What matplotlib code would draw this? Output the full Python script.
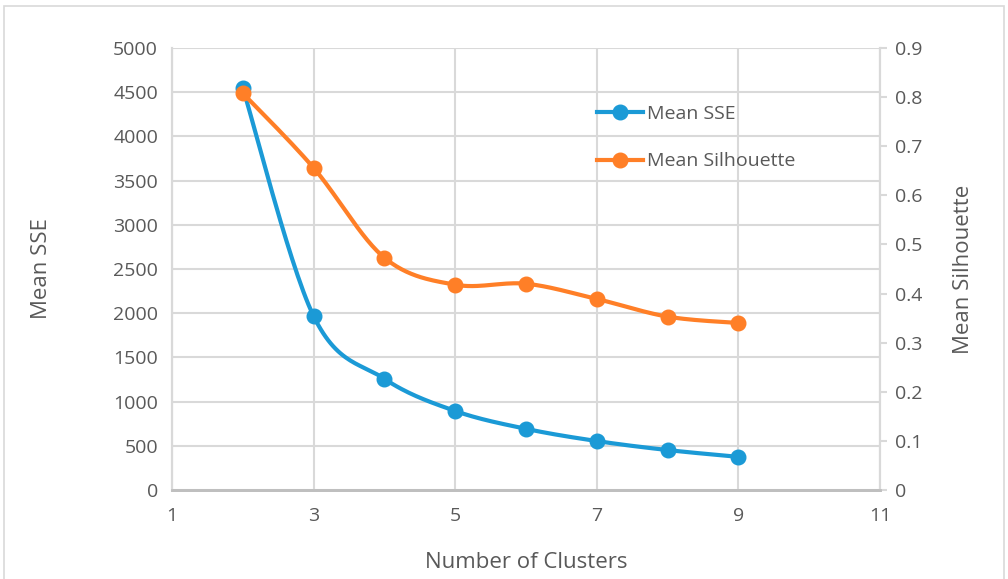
import numpy as np
import matplotlib
matplotlib.use('Agg')
import matplotlib.pyplot as plt
from matplotlib.patches import Rectangle

clusters = [2, 3, 4, 5, 6, 7, 8, 9]
mean_sse = [4550, 1968, 1258, 894, 692, 554, 452, 375]
mean_sil = [0.808, 0.656, 0.473, 0.418, 0.420, 0.389, 0.353, 0.340]

blue = '#1B9AD6'
orange = '#FF7F27'
grey = '#595959'

plt.rcParams['font.family'] = ['Open Sans', 'DejaVu Sans']


def smooth(xs, ys, n=30):
    # excel style smoothing: bezier segments with catmull-rom control points
    xs = np.asarray(xs, float)
    ys = np.asarray(ys, float)
    px = np.concatenate([[xs[0]], xs, [xs[-1]]])
    py = np.concatenate([[ys[0]], ys, [ys[-1]]])
    t = np.linspace(0, 1, n)
    outx, outy = [], []
    for i in range(1, len(px) - 2):
        x0, x1, x2, x3 = px[i - 1], px[i], px[i + 1], px[i + 2]
        y0, y1, y2, y3 = py[i - 1], py[i], py[i + 1], py[i + 2]
        c1x, c1y = x1 + (x2 - x0) / 6, y1 + (y2 - y0) / 6
        c2x, c2y = x2 - (x3 - x1) / 6, y2 - (y3 - y1) / 6
        bx = (1 - t) ** 3 * x1 + 3 * (1 - t) ** 2 * t * c1x + 3 * (1 - t) * t ** 2 * c2x + t ** 3 * x2
        by = (1 - t) ** 3 * y1 + 3 * (1 - t) ** 2 * t * c1y + 3 * (1 - t) * t ** 2 * c2y + t ** 3 * y2
        outx.extend(bx)
        outy.extend(by)
    return outx, outy


fig = plt.figure(figsize=(10.08, 5.79), dpi=100)
ax1 = fig.add_axes([0.1706, 0.1537, 0.7024, 0.7634])
ax2 = ax1.twinx()

sx, sy = smooth(clusters, mean_sse)
ax1.plot(sx, sy, color=blue, lw=3, solid_capstyle='round', zorder=3)
ax1.plot(clusters, mean_sse, 'o', color=blue, ms=10.5, zorder=4)

tx, ty = smooth(clusters, mean_sil)
ax2.plot(tx, ty, color=orange, lw=3, solid_capstyle='round', zorder=3)
ax2.plot(clusters, mean_sil, 'o', color=orange, ms=10.5, zorder=4)

ax1.set_xlim(1, 11)
ax1.set_ylim(0, 5000)
ax2.set_ylim(0, 0.9)
ax1.set_xticks([1, 3, 5, 7, 9, 11])
ax1.set_yticks(np.arange(0, 5001, 500))
ax2.set_yticks(np.round(np.arange(0, 0.91, 0.1), 1))
ax2.set_yticklabels(['0'] + ['%.1f' % v for v in np.arange(0.1, 0.91, 0.1)])

ax1.grid(True, color='#D9D9D9', lw=1.5)
ax1.set_axisbelow(True)

for ax in (ax1, ax2):
    ax.spines['top'].set_visible(False)
    ax.spines['left'].set_color('#D9D9D9')
    ax.spines['right'].set_color('#D9D9D9')
    ax.spines['bottom'].set_color('#BFBFBF')
    ax.spines['bottom'].set_linewidth(2)
    ax.spines['left'].set_linewidth(1.5)
    ax.spines['right'].set_linewidth(1.5)

ax1.tick_params(axis='y', length=0, labelsize=14, labelcolor=grey, pad=10)
ax1.tick_params(axis='x', length=0, labelsize=14, labelcolor=grey, pad=12)
ax2.tick_params(axis='y', length=5, color='#D9D9D9', width=1.5, labelsize=14, labelcolor=grey, pad=6)

ax1.set_ylabel('Mean SSE', fontsize=16, color=grey, labelpad=44)
ax1.set_xlabel('Number of Clusters', fontsize=16, color=grey, labelpad=20)
ax2.set_ylabel('Mean Silhouette', fontsize=16, color=grey, labelpad=22)

h1 = ax1.plot([], [], '-o', color=blue, lw=3, ms=10.5)[0]
h2 = ax1.plot([], [], '-o', color=orange, lw=3, ms=10.5)[0]
ax2.legend([h1, h2], ['Mean SSE', 'Mean Silhouette'], loc='upper left',
           bbox_to_anchor=(0.575, 0.91), frameon=False, fontsize=14,
           labelcolor=grey, handlelength=2.4, handletextpad=0.2, labelspacing=1.5)

fig.patches.append(Rectangle((0.004, -0.01), 0.992, 1.0, transform=fig.transFigure,
                             fill=False, edgecolor='#D9D9D9', lw=1.2))

fig.savefig('out.png', dpi=100)
